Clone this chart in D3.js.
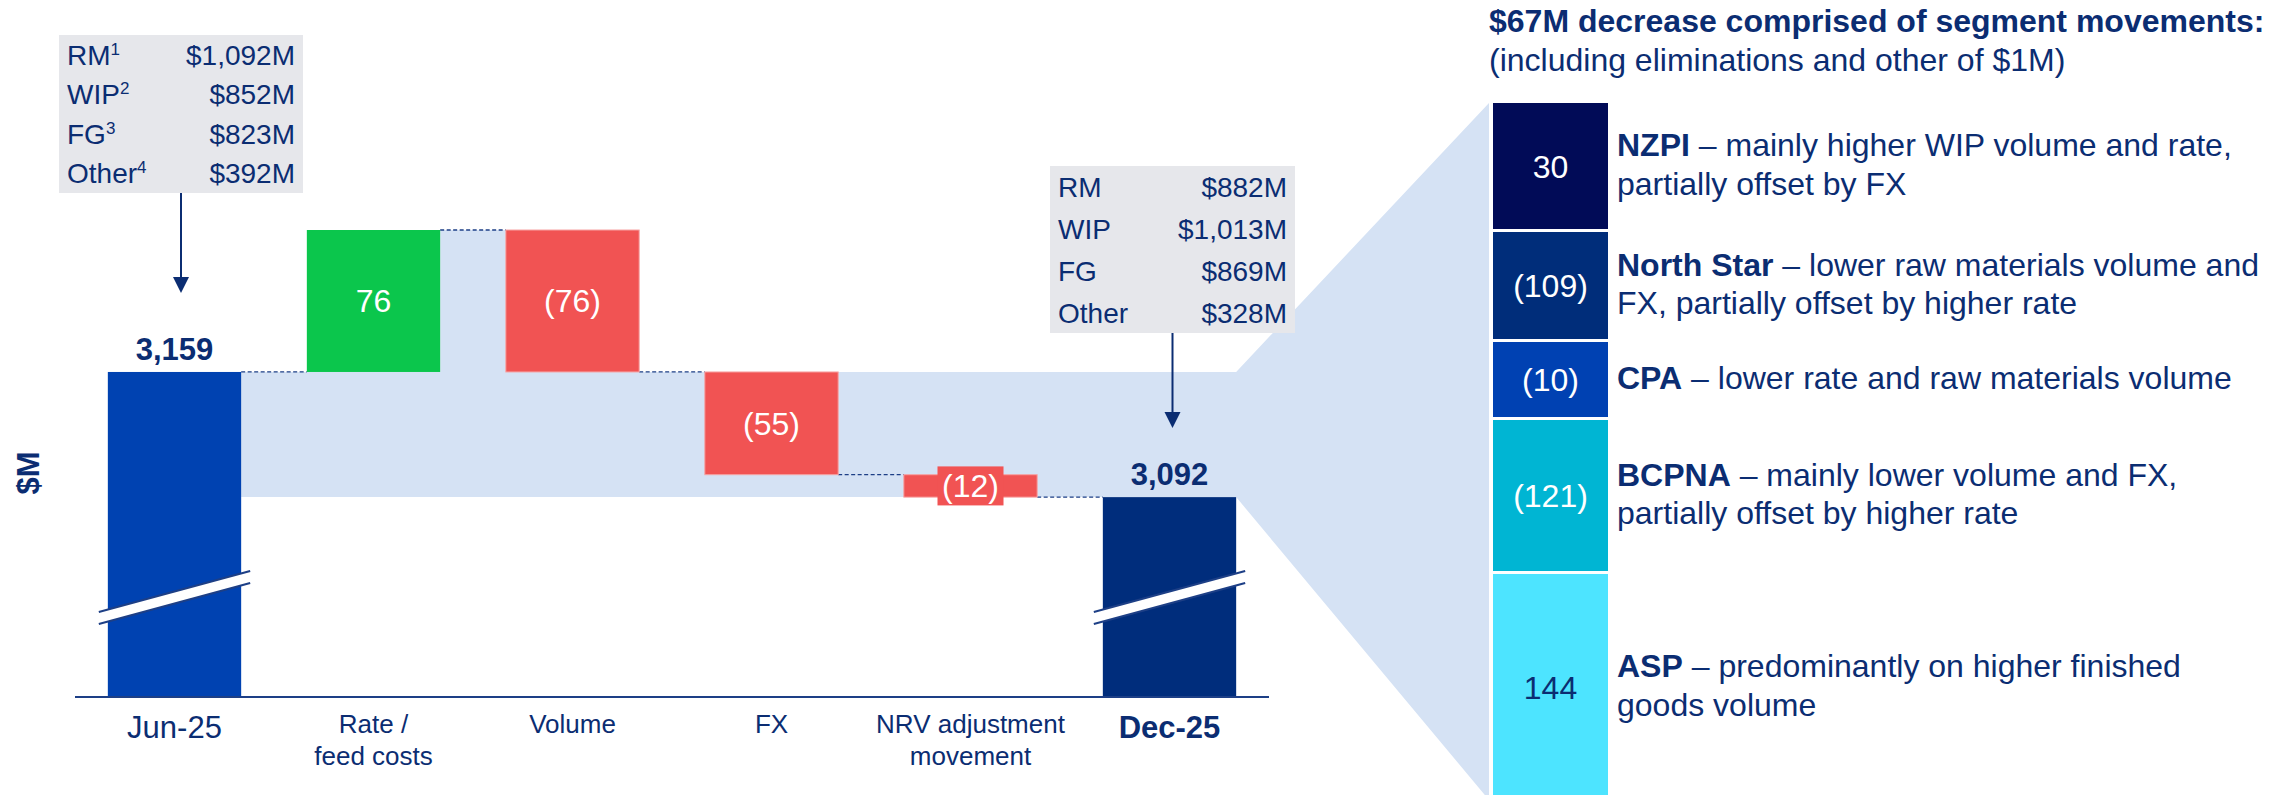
<!DOCTYPE html>
<html>
<head>
<meta charset="utf-8">
<script src="https://cdn.jsdelivr.net/npm/d3@7"></script>
<style>
  body { margin: 0; background: #fff; }
  svg { display: block; font-family: "Liberation Sans", Arial, sans-serif; }
</style>
</head>
<body>
<svg id="chart" width="2292" height="795"></svg>
<script>
// bridge data
const categories = ["Jun-25", "Rate /|feed costs", "Volume", "FX", "NRV adjustment|movement", "Dec-25"];
const kinds = ["total", "delta", "delta", "delta", "delta", "total"];
const amounts = [3159, 76, -76, -55, -12, 3092];

// inventory split boxes
const splitItems = ["RM", "WIP", "FG", "Other"];
const splitNotes = ["1", "2", "3", "4"];
const openingSplit = [1092, 852, 823, 392];
const closingSplit = [882, 1013, 869, 328];

// segment movements
const segmentNames = ["NZPI", "North Star", "CPA", "BCPNA", "ASP"];
const segmentValues = [30, -109, -10, -121, 144];
const segmentText = [
  ["– mainly higher WIP volume and rate,", "partially offset by FX"],
  ["– lower raw materials volume and", "FX, partially offset by higher rate"],
  ["– lower rate and raw materials volume"],
  ["– mainly lower volume and FX,", "partially offset by higher rate"],
  ["– predominantly on higher finished", "goods volume"]
];
const panelTitle = "$67M decrease comprised of segment movements:";
const panelSubtitle = "(including eliminations and other of $1M)";

const navy = "#0b2d72";
const axisNavy = "#1d3f86";
const band = "#d5e2f4";
const segmentColors = ["#010b57", "#002d7a", "#0041b2", "#00b5d3", "#4de4ff"];
const segmentTextColors = ["#fff", "#fff", "#fff", "#fff", navy];

const svg = d3.select("#chart");

const x = d3.scaleBand()
  .domain(categories)
  .range([75, 1269])
  .paddingInner(0.33)
  .paddingOuter(0.165);
const bw = x.bandwidth();

const y = d3.scaleLinear()
  .domain([2985, 3235])
  .range([697, 230]);

// running levels
let level = 0;
const bars = categories.map((c, i) => {
  let lo, hi;
  if (kinds[i] === "total") {
    level = amounts[i];
    lo = y.domain()[0]; hi = amounts[i];
  } else {
    const prev = level;
    level += amounts[i];
    lo = Math.min(prev, level); hi = Math.max(prev, level);
  }
  return { cat: c, kind: kinds[i], value: amounts[i], lo, hi, end: level };
});

const fmtTotal = d3.format(",");
const fmtDelta = v => v < 0 ? "(" + Math.abs(v) + ")" : String(v);

// stacked segment column layout
const stackX0 = 1493, stackX1 = 1608;
const segmentSpan = [129, 110, 78, 154, 250];
const gap = 3;
const stackY = d3.scaleLinear().domain([0, 1]).range([103, 104]);
let acc = 0;
const segs = segmentNames.map((n, i) => {
  const s = { name: n, value: segmentValues[i], text: segmentText[i], y0: stackY(acc), y1: stackY(acc + segmentSpan[i]) - gap, i };
  acc += segmentSpan[i];
  return s;
});

// light blue bridge band + funnel
const first = bars[0], last = bars[5];
const topLevel = y(first.value), botLevel = y(last.value);
const peak = y(d3.max(bars, d => d.kind === "delta" ? d.hi : 0));
const bandPts = [
  [x(categories[0]) + bw, topLevel],
  [x(categories[1]) + bw, topLevel],
  [x(categories[1]) + bw, peak],
  [x(categories[2]), peak],
  [x(categories[2]), topLevel],
  [x(categories[5]) + bw, topLevel],
  [stackX0 - 4, segs[0].y0],
  [stackX0 - 4, 800],
  [x(categories[5]) + bw, botLevel],
  [x(categories[0]) + bw, botLevel]
];
svg.append("polygon")
  .attr("points", bandPts.map(p => p.join(",")).join(" "))
  .attr("fill", band);

// connectors
bars.forEach((b, i) => {
  if (i === bars.length - 1) return;
  const lvl = b.kind === "total" ? b.value : b.end;
  svg.append("line")
    .attr("x1", x(b.cat) + bw).attr("x2", x(categories[i + 1]))
    .attr("y1", y(lvl)).attr("y2", y(lvl))
    .attr("stroke", axisNavy).attr("stroke-width", 1.3)
    .attr("stroke-dasharray", "4,2.5");
});

// bars
const barFill = (b, i) => b.kind === "total" ? (i === 0 ? "#0042b1" : "#002d7c") : (b.value > 0 ? "#0bc64c" : "#f15353");
svg.selectAll(".bar")
  .data(bars)
  .enter().append("rect")
  .attr("class", "bar")
  .attr("x", d => x(d.cat))
  .attr("width", bw)
  .attr("y", d => y(d.hi))
  .attr("height", d => y(d.lo) - y(d.hi))
  .attr("fill", barFill)
  .attr("stroke", (d, i) => d.kind === "delta" && d.value < 0 ? "#f7a3a3" : "none")
  .attr("stroke-width", 1);

// break marks on total bars
bars.filter(d => d.kind === "total").forEach(d => {
  const cx = x(d.cat) + bw / 2, cy = 597.5, hw = bw / 2 + 9, dy = 20.5, h = 6;
  svg.append("polygon")
    .attr("points", [[cx - hw, cy + dy - h], [cx + hw, cy - dy - h], [cx + hw, cy - dy + h], [cx - hw, cy + dy + h]].map(p => p.join(",")).join(" "))
    .attr("fill", "#fff");
  [-h, h].forEach(o => {
    svg.append("line")
      .attr("x1", cx - hw).attr("y1", cy + dy + o)
      .attr("x2", cx + hw).attr("y2", cy - dy + o)
      .attr("stroke", axisNavy).attr("stroke-width", 2);
  });
});

// value labels
bars.forEach((b, i) => {
  const cx = x(b.cat) + bw / 2;
  if (b.kind === "total") {
    svg.append("text")
      .attr("x", cx).attr("y", y(b.value) - 12)
      .attr("text-anchor", "middle")
      .attr("font-size", 31).attr("font-weight", "bold")
      .attr("fill", navy)
      .text(fmtTotal(b.value));
  } else {
    const cy = (y(b.lo) + y(b.hi)) / 2;
    if (y(b.lo) - y(b.hi) < 40) {
      svg.append("rect")
        .attr("x", cx - 33).attr("width", 66)
        .attr("y", cy - 19.5).attr("height", 39)
        .attr("fill", "#f15353");
    }
    svg.append("text")
      .attr("x", cx).attr("y", cy + 11.5)
      .attr("text-anchor", "middle")
      .attr("font-size", 32)
      .attr("fill", "#fff")
      .text(fmtDelta(b.value));
  }
});

// x axis line
svg.append("line")
  .attr("x1", x.range()[0]).attr("x2", x.range()[1])
  .attr("y1", y.range()[0]).attr("y2", y.range()[0])
  .attr("stroke", axisNavy).attr("stroke-width", 2);

// category labels
bars.forEach((b, i) => {
  const lines = b.cat.split("|");
  const t = svg.append("text")
    .attr("x", x(b.cat) + bw / 2)
    .attr("text-anchor", "middle")
    .attr("fill", navy)
    .attr("font-size", b.kind === "total" ? 31 : 26)
    .attr("font-weight", i === 5 ? "bold" : null);
  lines.forEach((l, j) => {
    t.append("tspan")
      .attr("x", x(b.cat) + bw / 2)
      .attr("y", (b.kind === "total" ? 738 : 733) + j * 32)
      .text(l);
  });
});

// y axis title
svg.append("text")
  .attr("transform", "translate(39,473) rotate(-90)")
  .attr("text-anchor", "middle")
  .attr("font-size", 31).attr("font-weight", "bold")
  .attr("fill", navy)
  .text("$M");

// split boxes with arrows
function splitBox(x0, y0, w, h, values, notes, rowStep, firstBase, arrowTip) {
  svg.append("rect").attr("x", x0).attr("y", y0).attr("width", w).attr("height", h).attr("fill", "#e6e7eb");
  splitItems.forEach((it, i) => {
    const t = svg.append("text")
      .attr("x", x0 + 8).attr("y", firstBase + i * rowStep)
      .attr("font-size", 28).attr("fill", navy);
    t.append("tspan").text(it);
    if (notes) t.append("tspan").attr("font-size", 17).attr("dy", -10).text(notes[i]);
    svg.append("text")
      .attr("x", x0 + w - 8).attr("y", firstBase + i * rowStep)
      .attr("text-anchor", "end")
      .attr("font-size", 28).attr("fill", navy)
      .text("$" + fmtTotal(values[i]) + "M");
  });
  const ax = x0 + w / 2;
  svg.append("line").attr("x1", ax).attr("x2", ax).attr("y1", y0 + h).attr("y2", arrowTip - 14)
    .attr("stroke", navy).attr("stroke-width", 2);
  svg.append("path")
    .attr("d", `M${ax - 8},${arrowTip - 16} L${ax + 8},${arrowTip - 16} L${ax},${arrowTip} Z`)
    .attr("fill", navy);
}
splitBox(59, 35, 244, 158, openingSplit, splitNotes, 39.3, 65, y(first.value) - 79);
splitBox(1050, 166, 245, 167, closingSplit, null, 42, 197, y(last.value) - 69);

// right panel
svg.append("text")
  .attr("x", 1489).attr("y", 32)
  .attr("font-size", 32).attr("font-weight", "bold").attr("fill", navy)
  .text(panelTitle);
svg.append("text")
  .attr("x", 1489).attr("y", 71)
  .attr("font-size", 32).attr("fill", navy)
  .text(panelSubtitle);

const segG = svg.selectAll(".seg").data(segs).enter().append("g").attr("class", "seg");
segG.append("rect")
  .attr("x", stackX0).attr("width", stackX1 - stackX0)
  .attr("y", d => d.y0).attr("height", d => d.y1 - d.y0)
  .attr("fill", d => segmentColors[d.i]);
segG.append("text")
  .attr("x", (stackX0 + stackX1) / 2)
  .attr("y", d => (d.y0 + Math.min(d.y1, 800)) / 2 + 11.5)
  .attr("text-anchor", "middle")
  .attr("font-size", 32)
  .attr("fill", d => segmentTextColors[d.i])
  .text(d => fmtDelta(d.value));

segs.forEach(d => {
  const mid = (d.y0 + Math.min(d.y1, 800)) / 2;
  const n = d.text.length, lh = 38.5;
  d.text.forEach((line, j) => {
    const t = svg.append("text")
      .attr("x", 1617)
      .attr("y", mid + (j - (n - 1) / 2) * lh + 9.5)
      .attr("font-size", 32).attr("fill", navy);
    if (j === 0) {
      t.append("tspan").attr("font-weight", "bold").text(d.name);
      t.append("tspan").text(" " + line);
    } else {
      t.text(line);
    }
  });
});
</script>
</body>
</html>
